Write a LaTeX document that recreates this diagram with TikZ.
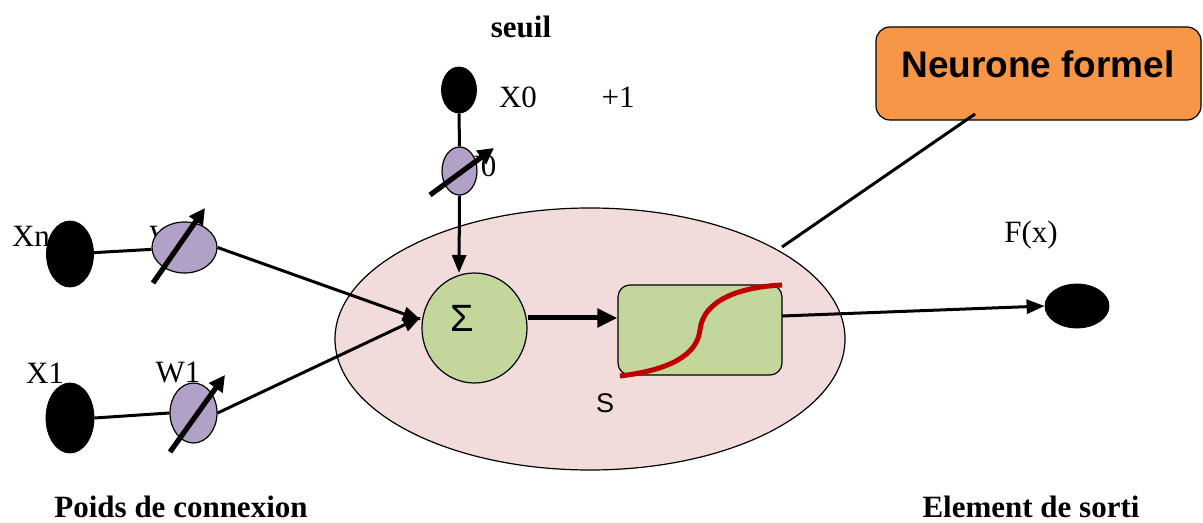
\documentclass[tikz,border=0pt]{standalone}
\usepackage{fontspec}
\setmainfont{Liberation Serif}
\newfontfamily\arialfont{Liberation Sans}
\usetikzlibrary{arrows.meta,shapes.geometric}
\definecolor{pinkbg}{HTML}{F2DCDB}
\definecolor{greenbg}{HTML}{C3D69B}
\definecolor{purplebg}{HTML}{B2A1C7}
\definecolor{orangebg}{HTML}{F79646}
\definecolor{sigred}{HTML}{C00000}
\begin{document}
\begin{tikzpicture}[x=0.5pt,y=-0.5pt,
  lbl/.style={font=\fontsize{15.5}{18}\selectfont, inner sep=0pt},
  blbl/.style={font=\fontsize{15.5}{18}\selectfont\bfseries, inner sep=0pt},
  dot/.style={ellipse, fill=black, draw=black, inner sep=0pt},
  wgt/.style={ellipse, fill=purplebg, draw=black, line width=0.6pt, inner sep=0pt},
  conn/.style={line width=1.5pt},
  connarr/.style={line width=1.5pt, -{Triangle[length=9pt,width=7pt]}},
  adjarr/.style={line width=2.6pt, -{Triangle[length=8pt,width=8pt]}}
]
\useasboundingbox (0,0) rectangle (1203,523);

% background neuron ellipse
\node[ellipse, fill=pinkbg, draw=black, line width=0.6pt, minimum width=255pt, minimum height=131pt, inner sep=0pt] (neuron) at (590,339) {};

% labels partly hidden behind shapes
\node[lbl] (lxn) at (31,236) {Xn};
\node[lbl] (lwn) at (172,237) {Wn};
\node[lbl] (lw0) at (474,166) {W0};

% input nodes
\node[dot, minimum width=23.5pt, minimum height=33pt] (xn) at (70,254) {};
\node[dot, minimum width=24pt, minimum height=35pt] (x1) at (70,418) {};
\node[dot, minimum width=17.5pt, minimum height=23pt] (x0) at (459,90) {};

% weight nodes
\node[wgt, minimum width=32.5pt, minimum height=25.5pt] (wn) at (184.5,247.5) {};
\node[wgt, minimum width=23.5pt, minimum height=30pt] (w1) at (193.5,413) {};
\node[wgt, minimum width=17.5pt, minimum height=24pt] (w0) at (459.5,171) {};

% summation and activation
\node[ellipse, fill=greenbg, draw=black, line width=0.6pt, minimum width=52.5pt, minimum height=55pt, inner sep=0pt] (sigma) at (474.5,328) {};
\node[font=\arialfont\fontsize{19}{22}\selectfont, inner sep=0pt] (sigmatxt) at (462,318) {Σ};
\node[rectangle, rounded corners=6pt, fill=greenbg, draw=black, line width=0.6pt, minimum width=82pt, minimum height=45pt, inner sep=0pt] (act) at (700,330) {};
\draw[sigred, line width=2.5pt] (620,376) .. controls (670,370) and (697,355) .. (700,330)
  .. controls (703,300) and (740,287) .. (782,285);

% output node
\node[dot, minimum width=32pt, minimum height=22pt] (out) at (1077,306) {};

% connectors
\draw[conn] (xn) -- (wn);
\draw[conn] (x1.east) -- (w1.west);
\draw[conn] (x0) -- (w0);
\coordinate (sigtop) at (459,273);
\draw[connarr] (w0.south) -- (sigtop);
\coordinate (sigin1) at (421,320);
\coordinate (sigin2) at (421,317);
\draw[connarr] (wn.east) -- (sigin1);
\draw[connarr] (w1.east) -- (sigin2);
\draw[line width=2.5pt, -{Triangle[length=10pt,width=9pt]}] (sigma.east |- 0,318) -- (act.west |- 0,318);
\coordinate (actout) at (782,316);
\draw[connarr] (actout) -- (out.west);

% adjustable-weight arrows
\coordinate (wna) at (153,283); \coordinate (wnb) at (205,208);
\draw[adjarr] (wna) -- (wnb);
\coordinate (w1a) at (170,452); \coordinate (w1b) at (225,375);
\draw[adjarr] (w1a) -- (w1b);
\coordinate (w0a) at (430,195); \coordinate (w0b) at (494,148);
\draw[adjarr] (w0a) -- (w0b);

% callout
\node[rectangle, rounded corners=7pt, fill=orangebg, draw=black, line width=0.6pt, minimum width=162.5pt, minimum height=46.5pt, inner sep=0pt] (callout) at (1038.5,73.5) {};
\node[font=\arialfont\bfseries\fontsize{18.5}{22}\selectfont, inner sep=0pt] (callouttxt) at (1038,64) {Neurone formel};
\coordinate (calla) at (975,114);
\coordinate (callb) at (782,247);
\draw[line width=1.5pt] (calla) -- (callb);

% texts
\node[blbl] (seuil) at (521,27) {seuil};
\node[lbl] (lx0) at (518,97) {X0};
\node[lbl] (lp1) at (618,97) {+1};
\node[lbl] (lx1) at (45,373) {X1};
\node[lbl] (lw1) at (178,373) {W1};
\node[lbl] (lfx) at (1031,235) {F(x)};
\node[font=\arialfont\fontsize{13.5}{16}\selectfont, inner sep=0pt] (ls) at (605,403) {S};
\node[blbl] (poids) at (181,507) {Poids de connexion};
\node[blbl] (elem) at (1031,507) {Element de sorti};
\end{tikzpicture}
\end{document}
